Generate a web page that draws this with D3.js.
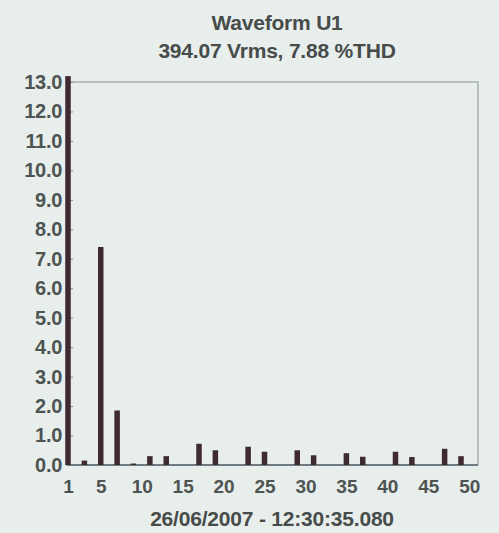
<!DOCTYPE html>
<html>
<head>
<meta charset="utf-8">
<script src="https://cdn.jsdelivr.net/npm/d3@7/dist/d3.min.js"></script>
<style>
  html, body { margin: 0; padding: 0; background: #e8eeec; }
  svg { display: block; }
  text { font-family: "Liberation Sans", Arial, sans-serif; }
</style>
</head>
<body>
<script>
// Harmonic spectrum of voltage U1, in % of the fundamental
const titleLines = ["Waveform U1", "394.07 Vrms, 7.88 %THD"];
const timestamp = "26/06/2007 - 12:30:35.080";

const orders = d3.range(1, 51);
const percentOfFundamental = [
  100, 0, 0.15, 0, 7.4, 0, 1.85, 0, 0.05, 0,
  0.3, 0, 0.3, 0, 0, 0, 0.72, 0, 0.5, 0,
  0, 0, 0.62, 0, 0.45, 0, 0, 0, 0.5, 0,
  0.33, 0, 0, 0, 0.4, 0, 0.28, 0, 0, 0,
  0.45, 0, 0.27, 0, 0, 0, 0.55, 0, 0.3, 0
];
const yTicks = d3.range(0, 14);
const xTicks = [1, 5, 10, 15, 20, 25, 30, 35, 40, 45, 50];

const W = 499, H = 533;
const plot = { left: 67, right: 478, top: 82, bottom: 465 };

const svg = d3.select("body").append("svg").attr("width", W).attr("height", H);

svg.append("rect").attr("width", W).attr("height", H).attr("fill", "#e8eeec");

const x = d3.scaleLinear().domain([1, 49]).range([68, 461]);
const y = d3.scaleLinear().domain([0, 13]).range([plot.bottom, plot.top]);
const yBar = d3.scaleLinear().domain([0, 13.2]).range([plot.bottom, y(13.2)]).clamp(true);

// frame: top and right edges
svg.append("path")
  .attr("d", `M${plot.left},${plot.top}H${plot.right}V${plot.bottom}`)
  .attr("fill", "none").attr("stroke", "#a9b2b1").attr("stroke-width", 1.5);

// left axis with inward ticks
const yAxis = svg.append("g")
  .attr("transform", `translate(${plot.left},0)`)
  .call(d3.axisLeft(y).tickValues(yTicks).tickFormat(d3.format(".1f"))
    .tickSize(-6).tickSizeOuter(0).tickPadding(5));
yAxis.select(".domain").attr("stroke", "#3a3235").attr("stroke-width", 2);
yAxis.selectAll(".tick line").attr("stroke", "#8a8f8d");
yAxis.selectAll("text").attr("font-size", 20).attr("font-weight", "bold")
  .attr("fill", "#4d5452").attr("letter-spacing", -0.3);

// bottom axis
const xAxis = svg.append("g")
  .attr("transform", `translate(0,${plot.bottom})`)
  .call(d3.axisBottom(x).tickValues(xTicks).tickFormat(d3.format("d"))
    .tickSize(0).tickPadding(15));
xAxis.select(".domain").remove();
xAxis.selectAll("text").attr("font-size", 19).attr("font-weight", "bold")
  .attr("fill", "#4d5452");
svg.append("line")
  .attr("x1", plot.left).attr("x2", plot.right)
  .attr("y1", plot.bottom).attr("y2", plot.bottom)
  .attr("stroke", "#6d7b80").attr("stroke-width", 2);

// harmonic bars
const barW = 5.5;
svg.append("g").selectAll("rect")
  .data(orders.map((o, i) => ({ order: o, value: percentOfFundamental[i] })).filter(d => d.value > 0))
  .join("rect")
  .attr("x", d => x(d.order) - barW / 2)
  .attr("width", barW)
  .attr("y", d => yBar(d.value))
  .attr("height", d => plot.bottom - yBar(d.value))
  .attr("fill", "#3f2a31");

// titles
const textStyle = sel => sel.attr("text-anchor", "middle").attr("font-size", 21)
  .attr("font-weight", "bold").attr("fill", "#474c4a").attr("letter-spacing", -0.2);
svg.append("text").attr("x", 277).attr("y", 30).call(textStyle).text(titleLines[0]);
svg.append("text").attr("x", 277).attr("y", 58).call(textStyle).text(titleLines[1]);
svg.append("text").attr("x", 272).attr("y", 526).call(textStyle).text(timestamp);
</script>
</body>
</html>
